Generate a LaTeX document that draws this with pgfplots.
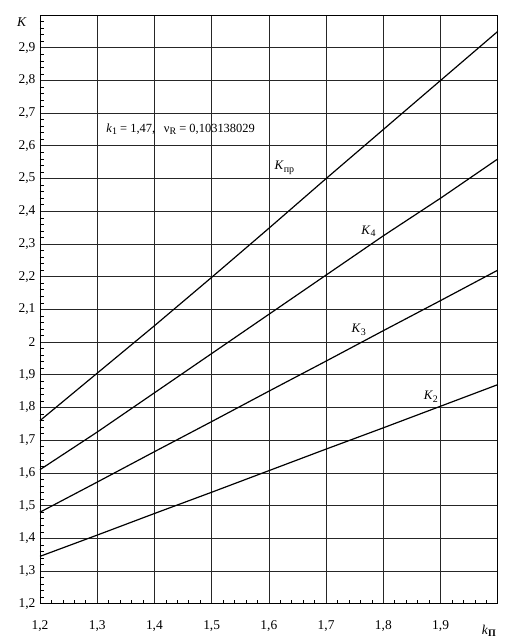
\documentclass[border=0pt]{standalone}
\usepackage{fontspec}
\setmainfont{Liberation Serif}
\usepackage{pgfplots}
\pgfplotsset{compat=1.18}
\newcommand{\sub}[1]{\raisebox{-0.4ex}{\fontsize{10}{11}\selectfont #1}}

\begin{document}
\begin{tikzpicture}
\begin{axis}[
  scale only axis,
  width=458bp, height=589bp,
  xmin=1.2, xmax=2.0, ymin=1.2, ymax=3.0,
  xtick={1.2,1.3,...,2.0},
  ytick={1.2,1.3,...,3.0},
  xticklabels={{1,2},{1,3},{1,4},{1,5},{1,6},{1,7},{1,8},{1,9},{}},
  yticklabels={{1,2},{1,3},{1,4},{1,5},{1,6},{1,7},{1,8},{1,9},{2},{2,1},{2,2},{2,3},{2,4},{2,5},{2,6},{2,7},{2,8},{2,9},{}},
  minor x tick num=4, minor y tick num=4,
  tick align=inside, tick pos=left,
  major tick length=0pt, minor tick length=4pt,
  minor tick style={line width=0.6pt, black},
  grid=major,
  major grid style={line width=0.7pt, black!85},
  axis line style={line width=0.8pt, black},
  ticklabel style={font=\fontsize{13.5}{15}\selectfont},
  xticklabel style={yshift=-13pt},
  yticklabel style={xshift=-1pt},
  clip=false,
]
% curves
\addplot[black, line width=1.2pt] coordinates {
  (1.2,1.760) (1.3,1.905) (1.4,2.050) (1.5,2.198) (1.6,2.348)
  (1.7,2.500) (1.8,2.650) (1.9,2.800) (2.0,2.950)};
\addplot[black, line width=1.2pt] coordinates {
  (1.2,1.610) (1.3,1.725) (1.4,1.845) (1.5,1.965) (1.6,2.085)
  (1.7,2.205) (1.8,2.325) (1.9,2.440) (2.0,2.560)};
\addplot[black, line width=1.2pt] coordinates {
  (1.2,1.480) (1.3,1.572) (1.4,1.665) (1.5,1.757) (1.6,1.850)
  (1.7,1.942) (1.8,2.035) (1.9,2.127) (2.0,2.220)};
\addplot[black, line width=1.2pt] coordinates {
  (1.2,1.345) (1.3,1.410) (1.4,1.476) (1.5,1.541) (1.6,1.607)
  (1.7,1.673) (1.8,1.738) (1.9,1.804) (2.0,1.870)};

% curve labels
\node[font=\fontsize{13}{15}\selectfont] at (axis cs:1.627,2.533) {\textit{K}\sub{пр}};
\node[font=\fontsize{13}{15}\selectfont] at (axis cs:1.774,2.338) {\textit{K}\sub{4}};
\node[font=\fontsize{13}{15}\selectfont] at (axis cs:1.757,2.038) {\textit{K}\sub{3}};
\node[font=\fontsize{13}{15}\selectfont] at (axis cs:1.883,1.833) {\textit{K}\sub{2}};

% parameters
\node[anchor=west, font=\fontsize{12.5}{14}\selectfont] at (axis cs:1.310,2.650)
  {\textit{k}\sub{1} = 1,47,\hspace{0.7em}ν\sub{R} = 0,103138029};

% axis names
\node[font=\fontsize{13.5}{15}\selectfont] at (rel axis cs:0,1) [xshift=-18bp, yshift=-7bp] {\textit{K}};
\node[font=\fontsize{13.5}{15}\selectfont] at (rel axis cs:1,0) [xshift=-9bp, yshift=-27bp] {\textit{k}\sub{\textbf{П}}};

% page frame
\path (rel axis cs:-0.0873,-0.0611) rectangle (rel axis cs:1.0349,1.0255);
\end{axis}
\end{tikzpicture}
\end{document}
